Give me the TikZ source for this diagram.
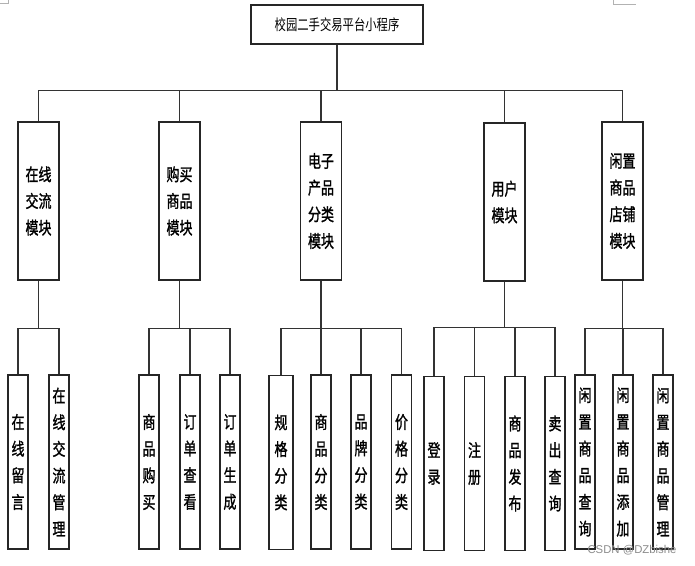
\documentclass[tikz,border=0pt]{standalone}
\usepackage{fontspec}
\usepackage{graphicx}
\setmainfont{Noto Sans CJK SC}
\newfontfamily\boxfont{Noto Sans CJK SC}[FakeBold=1.5]
\newfontfamily\wmfont{Liberation Sans}
\newcommand{\tall}[1]{\scalebox{1}[1.33]{#1}}
\begin{document}
\begin{tikzpicture}[x=0.75pt,y=-0.75pt,
  box/.style={draw=black!85, line width=1.1pt, inner sep=0pt, align=center,
    font=\boxfont\fontsize{9.75pt}{20pt}\selectfont},
  rootbox/.style={box, minimum width=129pt, minimum height=29.25pt,
    font=\rmfamily\fontsize{8.5pt}{10pt}\selectfont},
  modbox/.style={box, minimum width=30.75pt, minimum height=118.5pt},
  leafbox/.style={box, minimum width=15pt, minimum height=130.5pt},
  conn/.style={draw=black!80, line width=1.1pt},
  cropmark/.style={draw=black!30, line width=0.5pt}]
\useasboundingbox (0,0) rectangle (695,565);
\fill[white] (0,0) rectangle (695,565);
% crop marks
\draw[cropmark] (0,3) -- (8,3) -- (8,0);
\draw[cropmark] (613,0) -- (613,4) -- (636,4);
% root
\node[rootbox] (root) at (337,24.5) {\tall{校园二手交易平台小程序}};
% modules
\node[modbox] (m1) at (38.5,201) {\tall{在线}\\\tall{交流}\\\tall{模块}};
\node[modbox] (m2) at (179.5,201) {\tall{购买}\\\tall{商品}\\\tall{模块}};
\node[modbox] (m3) at (321,201) {\tall{电子}\\\tall{产品}\\\tall{分类}\\\tall{模块}};
\node[modbox] (m4) at (504.5,202) {\tall{用户}\\\tall{模块}};
\node[modbox] (m5) at (622.5,201) {\tall{闲置}\\\tall{商品}\\\tall{店铺}\\\tall{模块}};
% leaves
\node[leafbox] (l11) at (18,462) {\tall{在}\\\tall{线}\\\tall{留}\\\tall{言}};
\node[leafbox] (l12) at (59,462) {\tall{在}\\\tall{线}\\\tall{交}\\\tall{流}\\\tall{管}\\\tall{理}};
\node[leafbox] (l21) at (149,462) {\tall{商}\\\tall{品}\\\tall{购}\\\tall{买}};
\node[leafbox] (l22) at (190,462) {\tall{订}\\\tall{单}\\\tall{查}\\\tall{看}};
\node[leafbox] (l23) at (230,462) {\tall{订}\\\tall{单}\\\tall{生}\\\tall{成}};
\node[leafbox, minimum width=18pt] (l31) at (281,462.5) {\tall{规}\\\tall{格}\\\tall{分}\\\tall{类}};
\node[leafbox] (l32) at (321,462) {\tall{商}\\\tall{品}\\\tall{分}\\\tall{类}};
\node[leafbox] (l33) at (361,462) {\tall{品}\\\tall{牌}\\\tall{分}\\\tall{类}};
\node[leafbox] (l34) at (401.5,462) {\tall{价}\\\tall{格}\\\tall{分}\\\tall{类}};
\node[leafbox] (l41) at (434,463.5) {\tall{登}\\\tall{录}};
\node[leafbox] (l42) at (474.5,463.5) {\tall{注}\\\tall{册}};
\node[leafbox] (l43) at (515,463.5) {\tall{商}\\\tall{品}\\\tall{发}\\\tall{布}};
\node[leafbox] (l44) at (555,463.5) {\tall{卖}\\\tall{出}\\\tall{查}\\\tall{询}};
\node[leafbox] (l51) at (585,462) {\tall{闲}\\\tall{置}\\\tall{商}\\\tall{品}\\\tall{查}\\\tall{询}};
\node[leafbox] (l52) at (623,462) {\tall{闲}\\\tall{置}\\\tall{商}\\\tall{品}\\\tall{添}\\\tall{加}};
\node[leafbox] (l53) at (663,462) {\tall{闲}\\\tall{置}\\\tall{商}\\\tall{品}\\\tall{管}\\\tall{理}};
% top-level connectors
\path (root.south) ++(0,46) coordinate (bus);
\draw[conn] (root.south) -- (bus);
\foreach \m in {m1,m2,m3,m4,m5} {\draw[conn] (bus) -| (\m.north);}
% sub-buses
\path (m1.south) ++(0,48) coordinate (s1);
\path (m2.south) ++(0,48) coordinate (s2);
\path (m3.south) ++(0,48) coordinate (s3);
\path (m4.south) ++(0,45.5) coordinate (s4);
\path (m5.south) ++(0,48) coordinate (s5);
\foreach \m/\s in {m1/s1,m2/s2,m3/s3,m4/s4,m5/s5} {\draw[conn] (\m.south) -- (\s);}
\foreach \l in {l11,l12} {\draw[conn] (s1) -| (\l.north);}
\foreach \l in {l21,l22,l23} {\draw[conn] (s2) -| (\l.north);}
\foreach \l in {l31,l32,l33,l34} {\draw[conn] (s3) -| (\l.north);}
\foreach \l in {l41,l42,l43,l44} {\draw[conn] (s4) -| (\l.north);}
\foreach \l in {l51,l52,l53} {\draw[conn] (s5) -| (\l.north);}
% watermark
\node[font=\wmfont\fontsize{8.5pt}{10pt}\selectfont, text=black!45, inner sep=0pt] (wm) at (632,550) {CSDN @DZbishe};
\end{tikzpicture}
\end{document}
